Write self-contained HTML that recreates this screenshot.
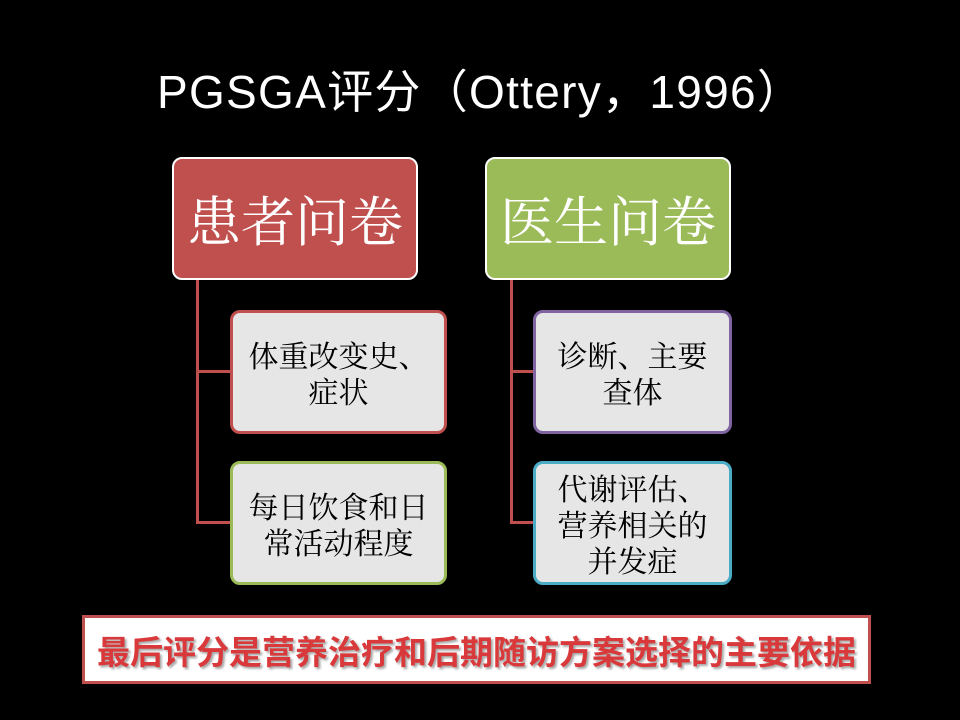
<!DOCTYPE html>
<html><head><meta charset="utf-8"><style>
body{margin:0;width:960px;height:720px;background:#000;position:relative;overflow:hidden;font-family:"Liberation Sans","Noto Sans CJK SC",sans-serif;}
.a{position:absolute;box-sizing:border-box;}
.title{left:157px;top:64px;color:#fff;font-size:46px;white-space:nowrap;line-height:56px;letter-spacing:1.3px;}
.hdr{border:2.5px solid #fff;border-radius:10px;color:#fff;font-family:"Noto Serif CJK SC","WenQuanYi Zen Hei",serif;font-size:54px;display:flex;align-items:center;justify-content:center;}
.ch{background:#e6e6e6;border:3px solid;border-radius:10px;font-family:"Noto Serif CJK SC",serif;font-size:30px;color:#000;display:flex;align-items:center;justify-content:center;text-align:center;line-height:36px;}
.ln{background:#c0504d;}
</style></head><body>
<div class="a title">PGSGA评分（Ottery，1996）</div>
<div class="a ln" style="left:196px;top:279px;width:3px;height:245px"></div>
<div class="a ln" style="left:196px;top:370px;width:36px;height:3px"></div>
<div class="a ln" style="left:196px;top:521px;width:36px;height:3px"></div>
<div class="a ln" style="left:510px;top:279px;width:3px;height:245px"></div>
<div class="a ln" style="left:510px;top:370px;width:25px;height:3px"></div>
<div class="a ln" style="left:510px;top:521px;width:25px;height:3px"></div>
<div class="a hdr" style="left:172px;top:157px;width:246px;height:123px;background:#c0504d">患者问卷</div>
<div class="a hdr" style="left:485px;top:157px;width:246px;height:123px;background:#9bbb59">医生问卷</div>
<div class="a ch" style="left:230px;top:310px;width:217px;height:124px;border-color:#c0504d">体重改变史、<br>症状</div>
<div class="a ch" style="left:230px;top:461px;width:217px;height:124px;border-color:#9bbb59">每日饮食和日<br>常活动程度</div>
<div class="a ch" style="left:533px;top:310px;width:199px;height:124px;border-color:#8064a2">诊断、主要<br>查体</div>
<div class="a ch" style="left:533px;top:461px;width:199px;height:124px;border-color:#4bacc6">代谢评估、<br>营养相关的<br>并发症</div>
<div class="a" style="left:82px;top:615px;width:789px;height:69px;background:#fff;border:3px solid #c0504d;display:flex;align-items:center;justify-content:center;color:#d9393a;font-weight:bold;font-size:33px;font-family:'Noto Sans CJK SC','WenQuanYi Zen Hei',sans-serif;text-shadow:2px 2px 2px rgba(0,0,0,0.35);white-space:nowrap;">最后评分是营养治疗和后期随访方案选择的主要依据</div>
</body></html>
